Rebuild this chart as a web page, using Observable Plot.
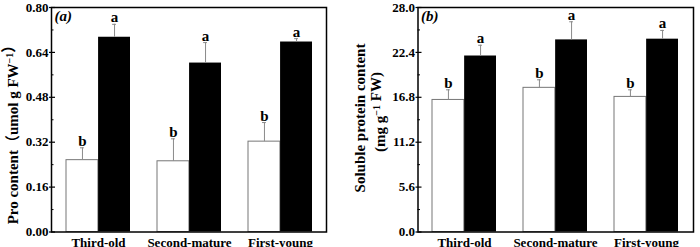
<!DOCTYPE html>
<html>
<head>
<meta charset="utf-8">
<script src="https://cdn.jsdelivr.net/npm/d3@7"></script>
<script src="https://cdn.jsdelivr.net/npm/@observablehq/plot@0.6"></script>
<style>
  html, body { margin: 0; padding: 0; background: #fff; }
  #wrap { display: flex; width: 700px; height: 247px; overflow: hidden; }
  svg { overflow: visible; }
</style>
</head>
<body>
<div id="wrap"></div>
<script>
// ---- data ----
const categories = ["Third-old", "Second-mature", "First-young"];

// Panel (a): Pro content
const proCtrl = [0.256, 0.252, 0.322];
const proCtrlErr = [0.044, 0.080, 0.068];
const proTrt = [0.694, 0.602, 0.677];
const proTrtErr = [0.046, 0.073, 0.012];
const proCtrlLetters = ["b", "b", "b"];
const proTrtLetters = ["a", "a", "a"];
const proTicks = [0, 0.16, 0.32, 0.48, 0.64, 0.80];
const proMinorTicks = [0.08, 0.24, 0.40, 0.56, 0.72];

// Panel (b): Soluble protein content
const protCtrl = [16.47, 17.98, 16.85];
const protCtrlErr = [1.26, 1.00, 0.88];
const protTrt = [21.95, 23.96, 24.05];
const protTrtErr = [1.34, 2.26, 1.09];
const protCtrlLetters = ["b", "b", "b"];
const protTrtLetters = ["a", "a", "a"];
const protTicks = [0, 5.6, 11.2, 16.8, 22.4, 28.0];
const protMinorTicks = [2.8, 8.4, 14.0, 19.6, 25.2];

const FONT = "'Liberation Serif', 'Times New Roman', 'Noto Sans CJK SC', serif";

function rows(vals, errs, letters) {
  return categories.map((c, i) => ({cat: c, v: vals[i], e: errs[i], top: vals[i] + errs[i], L: letters[i]}));
}

function panel(opts) {
  const W = 350, H = 247;
  const mL = opts.marginLeft, mR = opts.marginRight, mT = 7, mB = 15.5;
  const innerW = W - mL - mR;
  const pi = 0.3, po = 0.15;
  const bw = innerW / (categories.length - pi + 2 * po) * (1 - pi);
  const half = bw / 2;
  const ctrl = rows(opts.ctrl, opts.ctrlErr, opts.ctrlLetters);
  const trt = rows(opts.trt, opts.trtErr, opts.trtLetters);
  const capInset = (bw - 4) / 2;
  const errStroke = "#8a8a8a";
  const svg = Plot.plot({
    width: W, height: H,
    marginLeft: mL, marginRight: mR, marginTop: mT, marginBottom: mB,
    style: {fontFamily: FONT, fontSize: "13px", fontWeight: "bold", color: "#000", background: "#fff"},
    x: {domain: categories, paddingInner: pi, paddingOuter: po},
    y: {domain: opts.domain},
    marks: [
      Plot.barY(ctrl, {x: "cat", y: "v", insetRight: half, fill: "white", stroke: "#777", strokeWidth: 1}),
      Plot.barY(trt, {x: "cat", y: "v", insetLeft: half, fill: "black"}),
      Plot.ruleX(ctrl, {x: "cat", y1: "v", y2: "top", dx: -half / 2, stroke: errStroke, strokeWidth: 1}),
      Plot.ruleX(trt, {x: "cat", y1: "v", y2: "top", dx: half / 2, stroke: errStroke, strokeWidth: 1}),
      Plot.tickY(ctrl, {x: "cat", y: "top", dx: -half / 2, insetLeft: capInset, insetRight: capInset, stroke: errStroke, strokeWidth: 1}),
      Plot.tickY(trt, {x: "cat", y: "top", dx: half / 2, insetLeft: capInset, insetRight: capInset, stroke: errStroke, strokeWidth: 1}),
      Plot.text(ctrl, {x: "cat", y: "top", text: "L", dx: -half / 2, dy: -2, lineAnchor: "bottom", fontSize: 15, fontWeight: "bold", fill: "black"}),
      Plot.text(trt, {x: "cat", y: "top", text: "L", dx: half / 2, dy: -2, lineAnchor: "bottom", fontSize: 15, fontWeight: "bold", fill: "black"}),
      Plot.axisY({ticks: opts.ticks, tickSize: 6, dx: 4, tickFormat: () => "", label: null, strokeWidth: 1.2}),
      Plot.axisY({ticks: opts.minor, tickSize: 2.5, dx: 2.5, tickFormat: () => "", label: null, strokeWidth: 1}),
      Plot.axisY({ticks: opts.ticks, tickSize: 0, tickPadding: 3, tickFormat: opts.fmt, label: null, fontSize: 13}),
      Plot.axisX({tickSize: 0, tickPadding: 6, label: null, fontSize: 13}),
      Plot.frame({stroke: "black", strokeWidth: 1.5}),
      Plot.text([opts.tag], {frameAnchor: "top-left", text: d => d, dx: 3, dy: 3, lineAnchor: "top", fontSize: 15, fontWeight: "bold", fontStyle: "italic", fill: "black"})
    ]
  });
  return svg;
}

const wrap = document.getElementById("wrap");

const svgA = panel({
  marginLeft: 51, marginRight: 24,
  ctrl: proCtrl, ctrlErr: proCtrlErr, trt: proTrt, trtErr: proTrtErr,
  ctrlLetters: proCtrlLetters, trtLetters: proTrtLetters,
  domain: [0, 0.8], ticks: proTicks, minor: proMinorTicks, fmt: ".2f", tag: "(a)"
});
const svgB = panel({
  marginLeft: 67.5, marginRight: 7,
  ctrl: protCtrl, ctrlErr: protCtrlErr, trt: protTrt, trtErr: protTrtErr,
  ctrlLetters: protCtrlLetters, trtLetters: protTrtLetters,
  domain: [0, 28], ticks: protTicks, minor: protMinorTicks, fmt: ".1f", tag: "(b)"
});
wrap.appendChild(svgA);
wrap.appendChild(svgB);

// y-axis titles (with superscripts)
function yTitle(svg, x, y, parts) {
  const t = d3.select(svg).append("text")
    .attr("transform", `translate(${x},${y}) rotate(-90)`)
    .attr("text-anchor", "middle")
    .attr("dominant-baseline", "central")
    .attr("font-family", FONT)
    .attr("font-size", 15)
    .attr("font-weight", "bold")
    .attr("fill", "black");
  parts.forEach(p => {
    if (p.sup) {
      t.append("tspan").attr("dy", "-0.45em").attr("font-size", 10).text(p.s);
      t.append("tspan").attr("dy", "0.45em").text("");
    } else {
      t.append("tspan").text(p.s);
    }
  });
}
yTitle(svgA, 13, 131, [{s: "Pro content（umol g FW"}, {s: "−1", sup: true}, {s: "）"}]);
yTitle(svgB, 10, 118, [{s: "Soluble protein content"}]);
yTitle(svgB, 30, 112, [{s: "(mg g"}, {s: "−1", sup: true}, {s: " FW)"}]);
</script>
</body>
</html>
